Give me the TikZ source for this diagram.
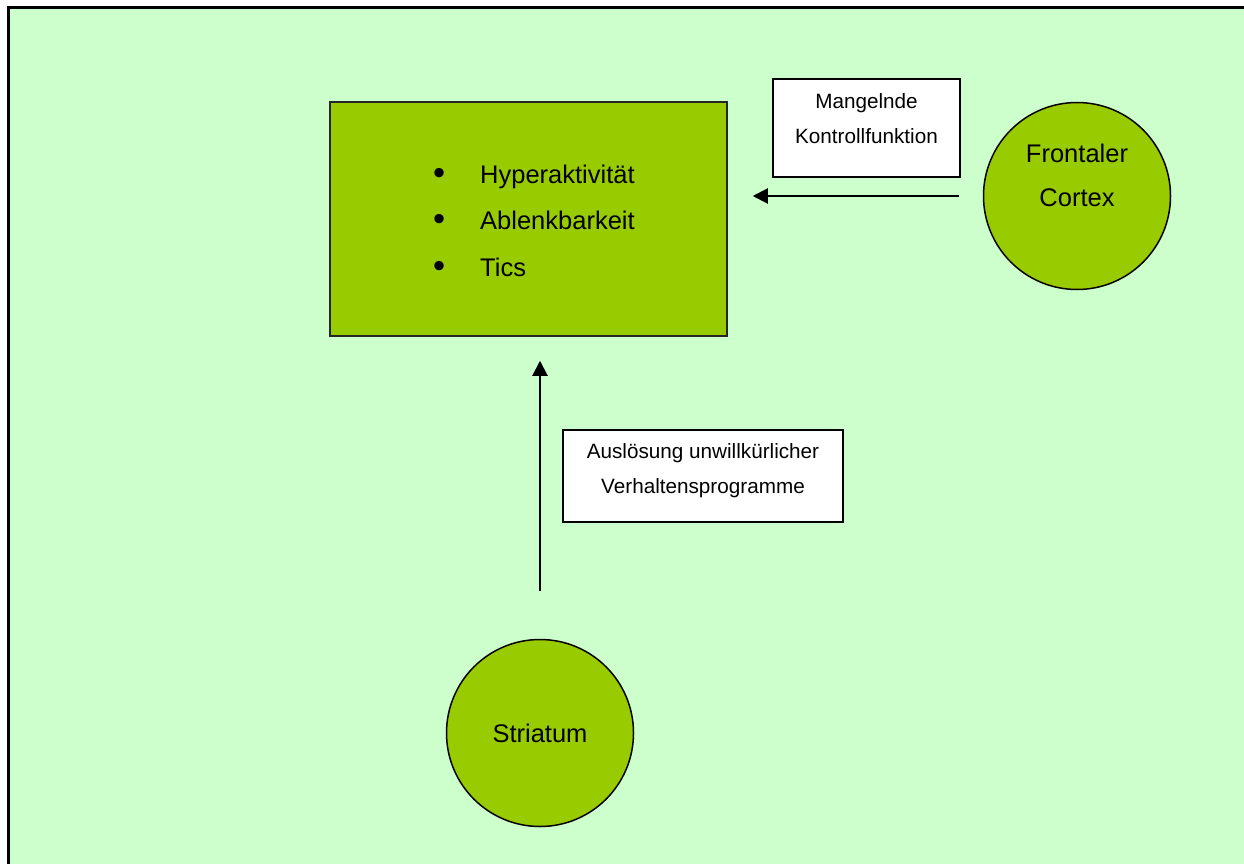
\documentclass[tikz,border=0pt]{standalone}
\usepackage{fontspec}
\setmainfont{Liberation Sans}
\usetikzlibrary{arrows.meta}
\definecolor{bggreen}{HTML}{CCFFCC}
\definecolor{boxgreen}{HTML}{99CC00}
\newcommand{\symbullet}{\makebox[47pt][l]{\raisebox{-0.05em}{\scalebox{1.35}{\textbullet}}}}
\tikzset{
  region/.style={circle,draw=black,line width=1.5pt,fill=boxgreen,
    minimum size=187pt,inner sep=0pt},
  regiontext/.style={inner sep=0pt,align=center,
    font=\fontsize{25.5}{44}\selectfont},
  labelbox/.style={rectangle,draw=black,line width=1.5pt,fill=white,
    inner sep=0pt},
  labeltext/.style={inner sep=0pt,align=center,
    font=\fontsize{20.7}{35}\selectfont},
  effect/.style={-{Triangle[length=15pt,width=15pt]},line width=2pt}
}
\begin{document}
\begin{tikzpicture}[x=1pt,y=-1pt]
  \useasboundingbox (0,0) rectangle (1244,864);
  \fill[bggreen] (9,9) rectangle (1244,864);
  \draw[line width=3pt] (8,864) -- (8,8) -- (1244,8);
  % symptom box
  \node[rectangle,draw=black!85,line width=1.5pt,fill=boxgreen,
    minimum width=397pt,minimum height=234pt] (box) at (528.5,219) {};
  \node[anchor=west,inner sep=0pt,align=left,
    font=\fontsize{25.5}{46.5}\selectfont] (symptoms) at (433,221)
    {\symbullet Hyperaktivität\\
     \symbullet Ablenkbarkeit\\
     \symbullet Tics};
  % brain regions
  \node[region] (cortex) at (1077,196) {};
  \node[regiontext] (cortexname) at (1077,175) {Frontaler\\Cortex};
  \node[region] (striatum) at (540,733) {};
  \node[regiontext] (striatumname) at (540,733) {Striatum};
  % labels
  \node[labelbox,minimum width=187pt,minimum height=98pt] (control)
    at (866.5,128) {};
  \node[labeltext] (controltext) at (866.5,119)
    {Mangelnde\\Kontrollfunktion};
  \node[labelbox,minimum width=280pt,minimum height=92pt] (trigger)
    at (703,476) {};
  \node[labeltext] (triggertext) at (703,471)
    {Auslösung unwillkürlicher\\Verhaltensprogramme};
  % connectors
  \begin{scope}[effect]
    \draw[shorten <=24pt,shorten >=25pt] (cortex.west) to (cortex.west -| box.east);
    \draw[shorten <=48pt,shorten >=24pt] (striatum.north) to (striatum.north |- box.south);
  \end{scope}
\end{tikzpicture}
\end{document}
